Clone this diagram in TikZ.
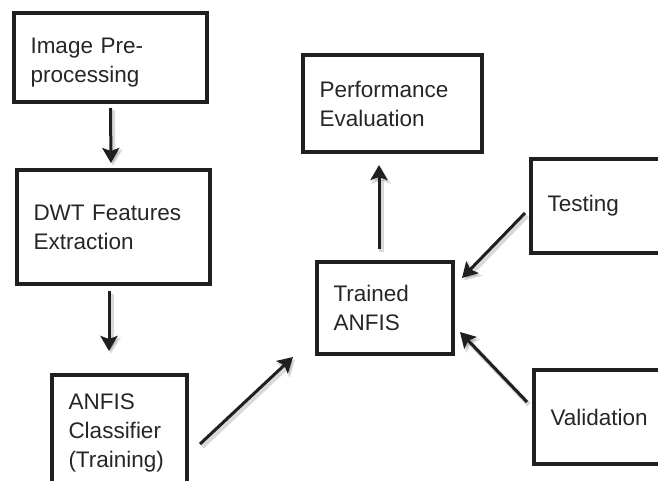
\documentclass[tikz,border=0pt]{standalone}
\usepackage{fontspec}
\setmainfont{Liberation Sans}
\usetikzlibrary{arrows.meta,calc}
\begin{document}
\begin{tikzpicture}[x=1pt,y=-1pt,
  box/.style={draw=black!88, line width=4pt, rectangle, inner xsep=16.5pt, inner ysep=0pt,
    align=left, font=\fontsize{22.5}{29}\selectfont, text=black!85},
  arr/.style={draw=black!88, line width=3pt, -{Stealth[width=17pt,length=15pt,inset=3pt]},
    preaction={draw=black, opacity=0.15, line width=5pt,
      -{Stealth[width=19pt,length=16pt,inset=3pt]},
      transform canvas={xshift=2pt,yshift=-2.5pt}}}]
\useasboundingbox (0,0) rectangle (658,481);
\clip (0,0) rectangle (658,481);
\node[box, minimum height=89pt, text width=160pt] (pre) at (110.5,57.5) {\rule{0pt}{25.4pt}Image Pre-\\processing};
\node[box, minimum height=114pt, text width=160pt] (dwt) at (113.5,227) {DWT Features\\Extraction};
\node[box, minimum height=116pt, text width=102pt] (cls) at (119.5,433) {ANFIS\\Classifier\\(Training)};
\node[box, minimum height=97pt, text width=146pt] (perf) at (392.5,103.5) {Performance\\Evaluation};
\node[box, minimum height=92pt, text width=103pt] (trained) at (385,308) {Trained\\ANFIS};
\node[box, minimum height=94pt, text width=116pt] (test) at (605.5,206) {Testing};
\node[box, minimum height=94pt, text width=113pt] (val) at (607,417) {Validation};
\draw[arr, shorten <=4pt, shorten >=5pt] (pre.south) -- ([xshift=-2.5pt]dwt.north);
\draw[arr, shorten <=5pt, shorten >=22pt] ([xshift=-4.5pt]dwt.south) -- ([xshift=-10.5pt]cls.north);
\draw[arr, shorten <=11pt, shorten >=11pt] ([xshift=-6pt]trained.north) -- ([xshift=-13.5pt]perf.south);
\draw[arr] ($(cls.east)+(11,11)$) -- ($(trained.south west)+(-22,1)$);
\draw[arr] ($(test.west)+(-4,7)$) -- ($(trained.east)+(7,-30)$);
\draw[arr] ($(val.west)+(-5,-15)$) -- ($(trained.east)+(5,24)$);
\end{tikzpicture}
\end{document}
